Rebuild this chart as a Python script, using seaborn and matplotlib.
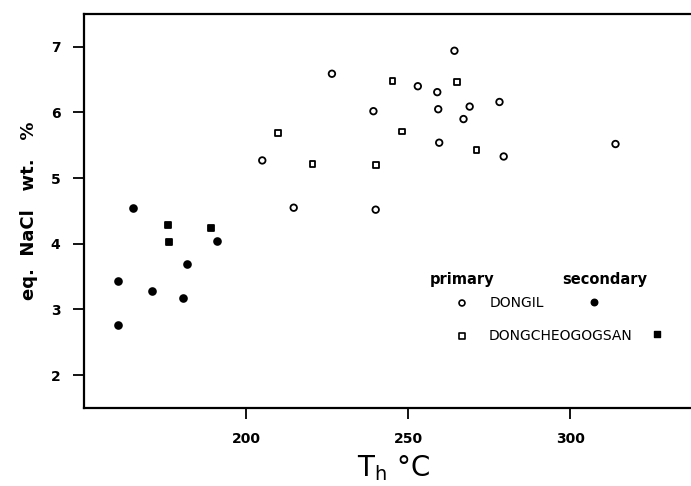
import numpy as np
import pandas as pd
import matplotlib
matplotlib.use('Agg')
import matplotlib.pyplot as plt
import seaborn as sns

sns.set_style('ticks')
plt.rcParams['font.family'] = ['DejaVu Sans']
plt.rcParams['axes.linewidth'] = 1.6
plt.rcParams['xtick.major.width'] = 1.3
plt.rcParams['ytick.major.width'] = 1.3
for key in ['axes.edgecolor', 'axes.labelcolor', 'xtick.color', 'ytick.color', 'text.color']:
    plt.rcParams[key] = 'black'

# fluid inclusion data
dongil_prim_T = [226.5, 253, 259, 259.3, 239.3, 259.6, 205, 214.7, 240, 264.3, 269, 278.2, 267.1, 279.5, 314]
dongil_prim_S = [6.59, 6.40, 6.31, 6.05, 6.02, 5.54, 5.27, 4.55, 4.52, 6.94, 6.09, 6.16, 5.90, 5.33, 5.52]
dongch_prim_T = [245.2, 265.1, 248.1, 209.8, 220.5, 240, 271.1]
dongch_prim_S = [6.48, 6.46, 5.71, 5.69, 5.21, 5.20, 5.43]
dongil_sec_T = [160.6, 160.6, 165.2, 170.9, 180.5, 181.7, 191]
dongil_sec_S = [3.43, 2.77, 4.54, 3.28, 3.17, 3.69, 4.05]
dongch_sec_T = [175.8, 176.2, 189.2]
dongch_sec_S = [4.29, 4.03, 4.24]

x_ticks = [200, 250, 300]
y_ticks = [2, 3, 4, 5, 6, 7]

frames = []
for loc, kind, T, S in [('DONGIL', 'primary', dongil_prim_T, dongil_prim_S),
                        ('DONGCHEOGOGSAN', 'primary', dongch_prim_T, dongch_prim_S),
                        ('DONGIL', 'secondary', dongil_sec_T, dongil_sec_S),
                        ('DONGCHEOGOGSAN', 'secondary', dongch_sec_T, dongch_sec_S)]:
    frames.append(pd.DataFrame({'T': T, 'S': S, 'loc': loc, 'kind': kind}))
df = pd.concat(frames, ignore_index=True)

fig = plt.figure(figsize=(6.91, 4.86), dpi=100)
ax = fig.add_axes([0.1216, 0.1605, 0.8784, 0.8107])

marker_of = {'DONGIL': 'o', 'DONGCHEOGOGSAN': 's'}
size_of = {('DONGIL', 'primary'): 22, ('DONGCHEOGOGSAN', 'primary'): 18,
           ('DONGIL', 'secondary'): 24, ('DONGCHEOGOGSAN', 'secondary'): 20}
for (loc, kind), sub in df.groupby(['loc', 'kind']):
    fc = 'none' if kind == 'primary' else 'k'
    sns.scatterplot(data=sub, x='T', y='S', marker=marker_of[loc], s=size_of[(loc, kind)],
                    facecolor=fc, edgecolor='k', linewidth=1.3, ax=ax, legend=False, zorder=3)

ax.set_xlim(150, 337.3)
ax.set_ylim(1.5, 7.5)
ax.set_xticks(x_ticks)
ax.set_yticks(y_ticks)
ax.tick_params(axis='both', direction='out', length=8, labelsize=10, pad=9)
for lab in ax.get_xticklabels() + ax.get_yticklabels():
    lab.set_fontweight('bold')
ax.spines['right'].set_visible(False)

ax.set_ylabel('eq.  NaCl   wt.   %', fontsize=13, fontweight='bold', labelpad=9)
ax.set_xlabel(r'T$_{\mathrm{h}}$ °C', fontsize=20, labelpad=8)
ax.xaxis.set_label_coords(0.51, -0.115)

# legend, drawn by hand to copy the original layout
tr = ax.transAxes
ax.text(0.570, 0.325, 'primary', transform=tr, fontsize=10.5, fontweight='bold', va='center')
ax.text(0.7875, 0.325, 'secondary', transform=tr, fontsize=10.5, fontweight='bold', va='center')
ax.text(0.669, 0.2665, 'DONGIL', transform=tr, fontsize=10, va='center')
ax.text(0.667, 0.1827, 'DONGCHEOGOGSAN', transform=tr, fontsize=10, va='center')
ax.scatter([0.6227], [0.2665], s=18, marker='o', facecolor='none', edgecolor='k', linewidth=1.2, transform=tr)
ax.scatter([0.6227], [0.1827], s=15, marker='s', facecolor='none', edgecolor='k', linewidth=1.2, transform=tr)
ax.scatter([0.8402], [0.2690], s=22, marker='o', color='k', transform=tr)
ax.scatter([0.9445], [0.1878], s=18, marker='s', color='k', transform=tr)

fig.savefig('out.png', dpi=100)
